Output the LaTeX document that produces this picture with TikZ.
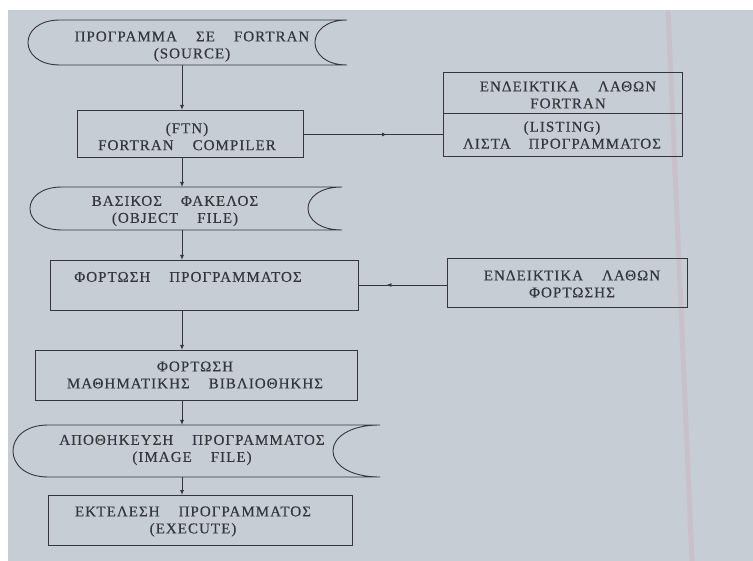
\documentclass[tikz,border=0pt]{standalone}
\usepackage{fontspec}
\setmainfont{Liberation Serif}[LetterSpace=7, FakeBold=0.4]
\usetikzlibrary{arrows.meta,decorations.markings}
\definecolor{paper}{RGB}{198,205,213}
\definecolor{ink}{RGB}{50,55,61}
\definecolor{streak}{RGB}{205,165,180}
\newcommand{\gp}{\hspace{19pt}}
\tikzset{
  line/.style={draw=ink, line width=0.9pt},
  box/.style={line, rectangle, inner sep=0pt, outer sep=0pt},
  area/.style={rectangle, inner sep=0pt, outer sep=0pt},
  txt/.style={text=ink, align=center, font=\fontsize{15}{17}\selectfont, inner sep=0pt},
  arr/.style={line, -{Latex[length=5pt,width=4pt]}},
  midtip/.style={postaction={decorate}, decoration={markings, mark=at position #1 with {\arrow{Latex[length=5pt,width=4pt]}}}},
}
\begin{document}
\begin{tikzpicture}[x=1pt,y=-1pt]
\useasboundingbox (0,0) rectangle (753,561);
\fill[paper] (0,0) rectangle (753,561);
\fill[white] (0,0) rectangle (753,10);
\fill[white] (0,0) rectangle (8,561);
\draw[streak, line width=5pt, opacity=0.3] (668,10) -- (692,561);

% stored-data shapes (areas)
\node[area, minimum width=319pt, minimum height=45pt] (s1) at (187.5,42.5) {};
\draw[line] (347,20) -- (60,20) .. controls (17.3,20) and (17.3,65) .. (60,65) -- (347,65) .. controls (304.3,65) and (304.3,20) .. (347,20);
\node[txt] (s1t) at (192,46.5) {ΠΡΟΓΡΑΜΜΑ\gp ΣΕ\gp FORTRAN\\(SOURCE)};

\node[area, minimum width=312pt, minimum height=43pt] (s3) at (186,208.5) {};
\draw[line] (342,187) -- (62,187) .. controls (19.3,187) and (19.3,230) .. (62,230) -- (342,230) .. controls (296.7,230) and (296.7,187) .. (342,187);
\node[txt] (s3t) at (175,211) {ΒΑΣΙΚΟΣ\gp ΦΑΚΕΛΟΣ\\(OBJECT\gp FILE)};

\node[area, minimum width=367pt, minimum height=52pt] (s6) at (196.5,451) {};
\draw[line] (380,425) -- (48,425) .. controls (1.3,425) and (1.3,477) .. (48,477) -- (380,477) .. controls (317.3,477) and (317.3,425) .. (380,425);
\node[txt] (s6t) at (192,450) {ΑΠΟΘΗΚΕΥΣΗ\gp ΠΡΟΓΡΑΜΜΑΤΟΣ\\(IMAGE\gp FILE)};

% process boxes
\node[box, minimum width=226pt, minimum height=47pt] (b2) at (190,133.5) {};
\node[txt] (b2t) at (187,136.5) {(FTN)\\FORTRAN\gp COMPILER};

\node[box, minimum width=308pt, minimum height=50pt] (b4) at (204,285) {};
\node[txt] (b4t) at (188,277) {ΦΟΡΤΩΣΗ\gp ΠΡΟΓΡΑΜΜΑΤΟΣ};

\node[box, minimum width=322pt, minimum height=50pt] (b5) at (196,375) {};
\node[txt] (b5t) at (195,375) {ΦΟΡΤΩΣΗ\\ΜΑΘΗΜΑΤΙΚΗΣ\gp ΒΙΒΛΙΟΘΗΚΗΣ};

\node[box, minimum width=304pt, minimum height=50pt] (b7) at (200,520) {};
\node[txt] (b7t) at (193,521.5) {ΕΚΤΕΛΕΣΗ\gp ΠΡΟΓΡΑΜΜΑΤΟΣ\\(EXECUTE)};

% right-hand boxes
\node[box, minimum width=239pt, minimum height=41pt] (r1a) at (562.5,92.5) {};
\node[box, minimum width=239pt, minimum height=43pt] (r1b) at (562.5,134.5) {};
\node[txt] (r1at) at (568,95) {ΕΝΔΕΙΚΤΙΚΑ\gp ΛΑΘΩΝ\\FORTRAN};
\node[txt] (r1bt) at (562,135) {(LISTING)\\ΛΙΣΤΑ\hspace{18pt}ΠΡΟΓΡΑΜΜΑΤΟΣ};

\node[box, minimum width=240pt, minimum height=49pt] (r2) at (567,282.5) {};
\node[txt] (r2t) at (572,284) {ΕΝΔΕΙΚΤΙΚΑ\gp ΛΑΘΩΝ\\ΦΟΡΤΩΣΗΣ};

% connectors
\coordinate (spine) at (182,0);
\draw[arr] (s1.south -| spine) -- (b2.north -| spine);
\draw[arr] (b2.south -| spine) -- (s3.north -| spine);
\draw[arr] (s3.south -| spine) -- (b4.north -| spine);
\draw[arr] (b4.south -| spine) -- (b5.north -| spine);
\draw[arr] (b5.south -| spine) -- (s6.north -| spine);
\draw[arr] (s6.south -| spine) -- (b7.north -| spine);
\draw[line, midtip=0.6] (b2.east |- r1b.west) -- (r1b.west);
\draw[line, midtip=0.68] (r2.west |- b4.east) -- (b4.east);
\end{tikzpicture}
\end{document}
